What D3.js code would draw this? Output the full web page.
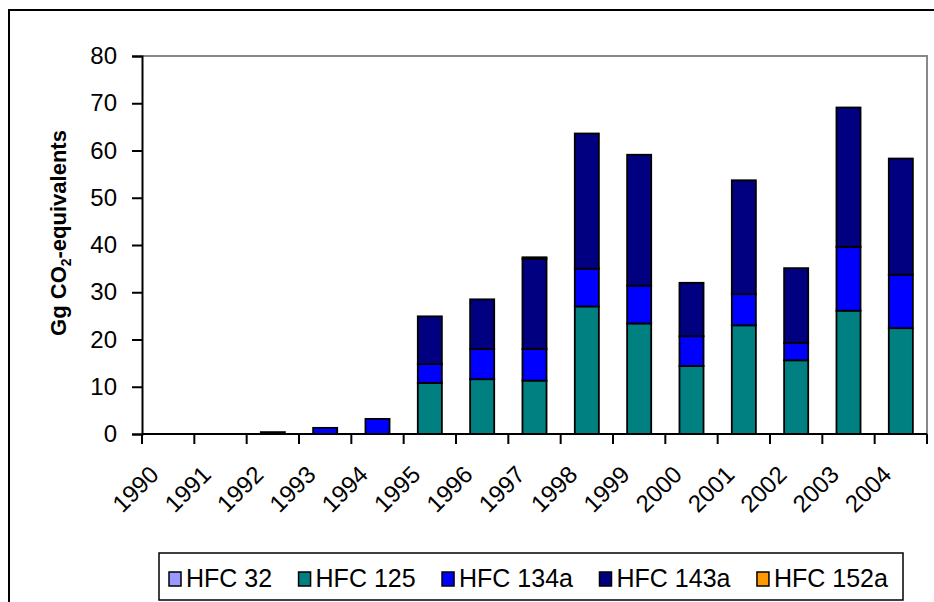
<!DOCTYPE html>
<html>
<head>
<meta charset="utf-8">
<script src="https://cdn.jsdelivr.net/npm/d3@7"></script>
<style>
	body { margin: 0; background: #fff; }
	svg { display: block; font-family: Arial, "Liberation Sans", sans-serif; }
</style>
</head>
<body>
<svg id="chart" width="934" height="602"></svg>
<script>
// values (Gg CO2-eq), one array per gas
var years	= ["1990","1991","1992","1993","1994","1995","1996","1997","1998","1999","2000","2001","2002","2003","2004"];
var hfc32	= [0, 0, 0,   0,   0,   0,    0,    0,    0,    0,    0,    0,    0,    0,    0];
var hfc125	= [0, 0, 0,   0,   0,   10.8, 11.6, 11.3, 27.0, 23.4, 14.4, 23.0, 15.6, 26.1, 22.4];
var hfc134a	= [0, 0, 0.4, 1.3, 3.2, 4.0,  6.4,  6.7,  8.0,  8.0,  6.3,  6.6,  3.7,  13.5, 11.3];
var hfc143a	= [0, 0, 0,   0,   0,   10.1, 10.5, 19.1, 28.6, 27.7, 11.3, 24.1, 15.8, 29.5, 24.6];
var hfc152a	= [0, 0, 0,   0,   0,   0,    0,    0.3,  0,    0,    0,    0,    0,    0,    0];
var seriesNames	= ["HFC 32", "HFC 125", "HFC 134a", "HFC 143a", "HFC 152a"];
var seriesColors	= ["#9999ff", "#008080", "#0000ff", "#000080", "#ff9900"];
var yTicks	= [0, 10, 20, 30, 40, 50, 60, 70, 80];

var rows = years.map(function(y, i) {
	return { year: y, "HFC 32": hfc32[i], "HFC 125": hfc125[i], "HFC 134a": hfc134a[i], "HFC 143a": hfc143a[i], "HFC 152a": hfc152a[i] };
});

var svg = d3.select("#chart"),
	pLeft = 142, pRight = 927, pTop = 56, pBottom = 434,
	font = "Arial, 'Liberation Sans', sans-serif";

// outer chart frame (runs off the right and bottom of the shot)
svg.append("rect").attr("x", 9).attr("y", 10).attr("width", 960).attr("height", 620)
	.attr("fill", "none").attr("stroke", "#000").attr("stroke-width", 2);

var x = d3.scaleBand().domain(years).range([pLeft, pRight]).paddingInner(0.54).paddingOuter(0.27);
var y = d3.scaleLinear().domain([0, 80]).range([pBottom, pTop]);
var color = d3.scaleOrdinal().domain(seriesNames).range(seriesColors);

// plot area border: grey top/right
svg.append("path").attr("d", "M" + pLeft + "," + pTop + "H" + pRight + "V" + pBottom)
	.attr("fill", "none").attr("stroke", "#888").attr("stroke-width", 2);

var stack = d3.stack().keys(seriesNames)(rows);

svg.append("g").selectAll("g").data(stack).join("g")
	.attr("fill", function(d) { return color(d.key); })
	.selectAll("rect").data(function(d) { return d.filter(function(p) { return p[1] - p[0] > 0; }); })
	.join("rect")
		.attr("x", function(d) { return x(d.data.year); })
		.attr("width", x.bandwidth())
		.attr("y", function(d) { return y(d[1]); })
		.attr("height", function(d) { return y(d[0]) - y(d[1]); })
		.attr("stroke", "#000").attr("stroke-width", 1.8);

// y axis
var gy = svg.append("g").attr("transform", "translate(" + pLeft + ",0)")
	.call(d3.axisLeft(y).tickValues(yTicks).tickSize(10).tickPadding(15));
gy.select(".domain").attr("stroke-width", 2);
gy.selectAll(".tick line").attr("stroke-width", 2);
gy.selectAll(".tick text").attr("font-size", 24).attr("fill", "#000").attr("font-family", font);

// x axis: labels centred on the bars, ticks between categories
var gx = svg.append("g").attr("transform", "translate(0," + pBottom + ")")
	.call(d3.axisBottom(x).tickSize(0));
gx.select(".domain").remove();
gx.append("line").attr("x1", pLeft).attr("x2", pRight).attr("stroke", "#000").attr("stroke-width", 2);
gx.selectAll(".boundary").data(d3.range(years.length + 1)).join("line")
	.attr("class", "boundary")
	.attr("x1", function(i) { return pLeft + i * x.step(); })
	.attr("x2", function(i) { return pLeft + i * x.step(); })
	.attr("y1", 0).attr("y2", 10)
	.attr("stroke", "#000").attr("stroke-width", 2);
gx.selectAll(".tick text")
	.attr("font-size", 24).attr("fill", "#000").attr("font-family", font)
	.attr("text-anchor", "end").attr("dy", null).attr("y", 0)
	.attr("transform", "translate(" + (x.bandwidth() / 2 - 20) + ",42) rotate(-45)");

// y title with subscript
var title = svg.append("text")
	.attr("transform", "translate(66,233) rotate(-90)")
	.attr("text-anchor", "middle").attr("font-size", 22).attr("font-weight", "bold");
title.append("tspan").text("Gg CO");
title.append("tspan").attr("font-size", 14).attr("dy", 5).text("2");
title.append("tspan").attr("dy", -5).text("-equivalents");

// legend
var lx0 = 159, lx1 = 903, ly0 = 553, ly1 = 600;
svg.append("rect").attr("x", lx0).attr("y", ly0).attr("width", lx1 - lx0).attr("height", ly1 - ly0)
	.attr("fill", "#fff").attr("stroke", "#000").attr("stroke-width", 1.5);
var items = svg.append("g").selectAll("g").data(seriesNames).join("g");
items.append("rect").attr("width", 12).attr("height", 14).attr("y", -15)
	.attr("fill", function(d) { return color(d); }).attr("stroke", "#000").attr("stroke-width", 1.5);
items.append("text").attr("x", 17).attr("y", 0).attr("font-size", 25).text(function(d) { return d; });
var widths = [];
items.each(function() { widths.push(this.getBBox().width); });
var gap = (lx1 - lx0 - 25 - d3.sum(widths)) / (seriesNames.length - 1), cx = lx0 + 10;
items.attr("transform", function(d, i) {
	var t = "translate(" + cx + "," + (ly0 + 34) + ")";
	cx += widths[i] + gap;
	return t;
});
</script>
</body>
</html>
